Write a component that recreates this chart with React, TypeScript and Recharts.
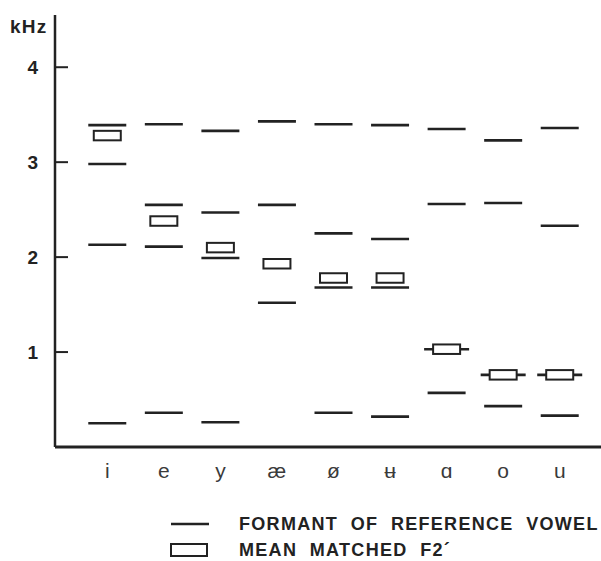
import { ComposedChart, Line, XAxis, YAxis, Legend } from 'recharts';

const vowels = ['i', 'e', 'y', 'æ', 'ø', 'ʉ', 'ɑ', 'o', 'u'];
// formants of the reference vowels, kHz
const f1 = [0.25, 0.36, 0.26, null, 0.36, 0.32, 0.57, 0.43, 0.33];
const f2 = [2.13, 2.11, 1.99, 1.52, 1.68, 1.68, 1.03, 0.76, 0.76];
const f3 = [2.98, 2.55, 2.47, 2.55, 2.25, 2.19, 2.56, 2.57, 2.33];
const f4 = [3.39, 3.4, 3.33, 3.43, 3.4, 3.39, 3.35, 3.23, 3.36];
// mean matched F2'
const matched = [3.28, 2.38, 2.1, 1.93, 1.78, 1.78, 1.03, 0.76, 0.76];
const yTicks = [1, 2, 3, 4];

const data = vowels.map((v, i) => ({
  v,
  f1: f1[i],
  f2: f2[i],
  f3: f3[i],
  f4: f4[i],
  m: matched[i],
}));

const INK = '#222';
const FONT = '"Liberation Sans", Arial, "DejaVu Sans", sans-serif';
const FORMANT_NAME = 'FORMANT  OF  REFERENCE  VOWEL';
const MATCH_NAME = 'MEAN  MATCHED  F2´';

const Dash = (props: any) => {
  const { cx, cy, index, dataKey, payload } = props;
  if (cx == null || cy == null || isNaN(cy)) return <g key={`${dataKey}-${index}`} />;
  // formant lying under the matched box is drawn a bit longer (whiskers)
  const half = payload.m === payload[dataKey] ? 22.5 : 19;
  return (
    <line key={`${dataKey}-${index}`} x1={cx - half} x2={cx + half} y1={cy} y2={cy} stroke={INK} strokeWidth={2.6} />
  );
};

const Box = (props: any) => {
  const { cx, cy, index } = props;
  if (cx == null || cy == null) return <g key={`m-${index}`} />;
  return (
    <rect key={`m-${index}`} x={cx - 13.5} y={cy - 4.75} width={27} height={9.5} fill="#fff" stroke={INK} strokeWidth={2} />
  );
};

const XTick = (props: any) => {
  const { x, y, payload } = props;
  return (
    <text x={x} y={y} dy={14} textAnchor="middle" fontFamily={FONT} fontSize={21} fill="#3a3a3a">
      {payload.value}
    </text>
  );
};

const YTick = (props: any) => {
  const { x, y, payload } = props;
  return (
    <g>
      <line x1={x} x2={x + 13} y1={y} y2={y} stroke={INK} strokeWidth={2} />
      <text x={x - 17} y={y} dy="0.36em" textAnchor="end" fontFamily={FONT} fontWeight="bold" fontSize={19} fill={INK}>
        {payload.value}
      </text>
    </g>
  );
};

const UnitLabel = (props: any) => {
  const { viewBox } = props;
  return (
    <text x={viewBox.x + 10} y={viewBox.y + 18} fontFamily={FONT} fontWeight="bold" fontSize={19} letterSpacing={1.2} fill={INK}>
      kHz
    </text>
  );
};

const LegendBox = (props: any) => {
  const seen = new Set<string>();
  const items = (props.payload || []).filter((p: any) => {
    if (seen.has(p.value)) return false;
    seen.add(p.value);
    return true;
  });
  return (
    <div style={{ fontFamily: FONT, fontWeight: 'bold', fontSize: 18, lineHeight: '16px', color: INK, letterSpacing: 1.3, whiteSpace: 'pre' }}>
      {items.map((p: any, i: number) => (
        <div key={p.value} style={{ display: 'flex', alignItems: 'center', height: 16, marginTop: i ? 10 : 0 }}>
          <svg width={71} height={16} style={{ flex: 'none' }}>
            {p.value === MATCH_NAME ? (
              <rect x={3} y={2} width={36} height={12} fill="#fff" stroke={INK} strokeWidth={2} />
            ) : (
              <line x1={3} x2={41} y1={8} y2={8} stroke={INK} strokeWidth={2.4} />
            )}
          </svg>
          <span>{p.value}</span>
        </div>
      ))}
    </div>
  );
};

export default function App() {
  return (
    <div style={{ position: 'absolute', left: 0, top: 0, width: 601, height: 561, background: '#fff' }}>
      <ComposedChart width={601} height={561} data={data} margin={{ top: 15, right: 0, left: 0, bottom: 74 }}>
        <XAxis
          dataKey="v"
          scale="band"
          interval={0}
          padding={{ left: 24, right: 13 }}
          height={40}
          tickLine={false}
          tickSize={0}
          tickMargin={17}
          axisLine={{ stroke: INK, strokeWidth: 3 }}
          tick={<XTick />}
        />
        <YAxis
          domain={[0, 4.55]}
          ticks={yTicks}
          width={55}
          tickLine={false}
          tickSize={0}
          tickMargin={0}
          axisLine={{ stroke: INK, strokeWidth: 2.5 }}
          tick={<YTick />}
          label={<UnitLabel />}
        />
        <Legend
          verticalAlign="middle"
          layout="vertical"
          align="center"
          wrapperStyle={{ position: 'absolute', top: 516, left: 168, width: 'auto', height: 'auto' }}
          content={<LegendBox />}
        />
        {['f1', 'f2', 'f3', 'f4'].map((k) => (
          <Line
            key={k}
            dataKey={k}
            name={FORMANT_NAME}
            stroke="none"
            dot={<Dash />}
            activeDot={false}
            connectNulls={false}
            isAnimationActive={false}
          />
        ))}
        <Line
          dataKey="m"
          name={MATCH_NAME}
          stroke="none"
          dot={<Box />}
          activeDot={false}
          isAnimationActive={false}
        />
      </ComposedChart>
    </div>
  );
}
